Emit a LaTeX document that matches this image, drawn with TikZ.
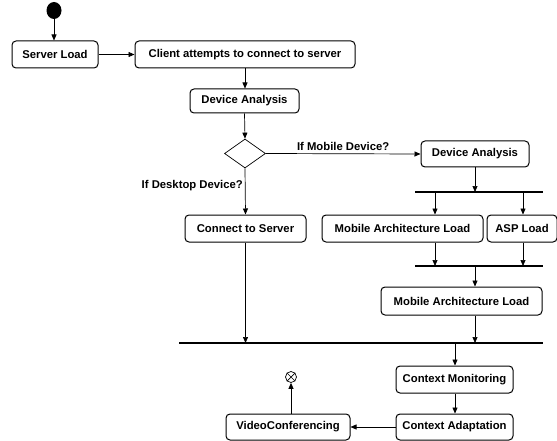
\documentclass[tikz,border=0pt]{standalone}
\usepackage{fontspec}
\setmainfont{Liberation Sans}
\usetikzlibrary{arrows.meta,shapes.geometric}
\begin{document}
\begin{tikzpicture}[x=1pt,y=-1pt,
  act/.style={draw,rounded corners=4pt,line width=1pt,minimum height=27pt,inner sep=0pt,font=\fontsize{11.3}{13}\bfseries\selectfont},
  flow/.style={line width=0.7pt,-{Triangle[length=6pt,width=5pt]}},
  bar/.style={line width=2.5pt},
  lbl/.style={font=\fontsize{11.3}{13}\bfseries\selectfont,inner sep=0pt}]
\useasboundingbox (0,0) rectangle (557,441);
\fill (54,10.5) ellipse (7.5pt and 8.5pt);
\node (start) [circle,minimum size=15pt,inner sep=0pt] at (54,10.5) {};
\node[act,minimum width=86pt] (sl) at (55,54.5) {Server Load};
\node[act,minimum width=220pt] (ca) at (245,54.5) {Client attempts to connect to server};
\node[act,minimum width=109pt,minimum height=24pt] (da) at (244.5,101) {Device Analysis};
\node[diamond,draw,line width=0.7pt,minimum width=41pt,minimum height=29pt,inner sep=0pt] (dec) at (245,153.5) {};
\node[act,minimum width=108pt,minimum height=26pt] (da2) at (475,154) {Device Analysis};
\node[act,minimum width=121pt] (cs) at (245.5,228.5) {Connect to Server};
\node[act,minimum width=161pt] (ma) at (402.5,228.5) {Mobile Architecture Load};
\node[act,minimum width=70pt] (asp) at (522,228.5) {ASP Load};
\node[act,minimum width=161pt,minimum height=28pt] (ma2) at (461.5,301) {Mobile Architecture Load};
\node[act,minimum width=117pt] (cm) at (454.5,379.5) {Context Monitoring};
\node[act,minimum width=117pt,minimum height=26pt] (cad) at (454.5,427) {Context Adaptation};
\node[act,minimum width=124pt,minimum height=26pt] (vc) at (288,427) {VideoConferencing};
\node[circle,draw,line width=0.7pt,minimum size=11pt,inner sep=0pt] (fin) at (291,377) {};
\draw[line width=0.7pt] (fin.north west) -- (fin.south east) (fin.north east) -- (fin.south west);
% bars
\coordinate (b1l) at (415,192); \coordinate (b1r) at (543,192);
\coordinate (b2l) at (415,266); \coordinate (b2r) at (543,266);
\coordinate (b3l) at (179,343); \coordinate (b3r) at (543,343);
\draw[bar] (b1l) -- (b1r);
\draw[bar] (b2l) -- (b2r);
\draw[bar] (b3l) -- (b3r);
% connectors
\draw[flow] (start) -- (sl.north -| start);
\draw[flow] (sl) -- (ca);
\draw[flow] (ca.south) -- (da.north -| ca.south);
\draw[flow] (da.south) -- (dec.north);
\draw[flow] (dec.east) -- node[lbl,above=3pt,pos=0.5] {If Mobile Device?} (da2.west);
\draw[flow] (dec.south) -- node[lbl,left=2pt,pos=0.38] {If Desktop Device?} (cs.north);
\draw[flow] (da2.south) -- (da2.south |- b1l);
\draw[flow] (435,192) -- (ma.north -| 435,0);
\draw[flow] (523,192) -- (asp.north -| 523,0);
\draw[flow] (ma.south -| 435,0) -- (435,266);
\draw[flow] (asp.south -| 523,0) -- (523,266);
\draw[flow] (475,266) -- (ma2.north -| 475,0);
\draw[flow] (ma2.south -| 475,0) -- (475,343);
\draw[flow] (cs.south) -- (cs.south |- b3l);
\draw[flow] (455,343) -- (cm.north -| 455,0);
\draw[flow] (cm.south -| 455,0) -- (cad.north -| 455,0);
\draw[flow] (cad.west) -- (vc.east);
\draw[flow] (vc.north -| fin) -- (fin.south);
\end{tikzpicture}
\end{document}
